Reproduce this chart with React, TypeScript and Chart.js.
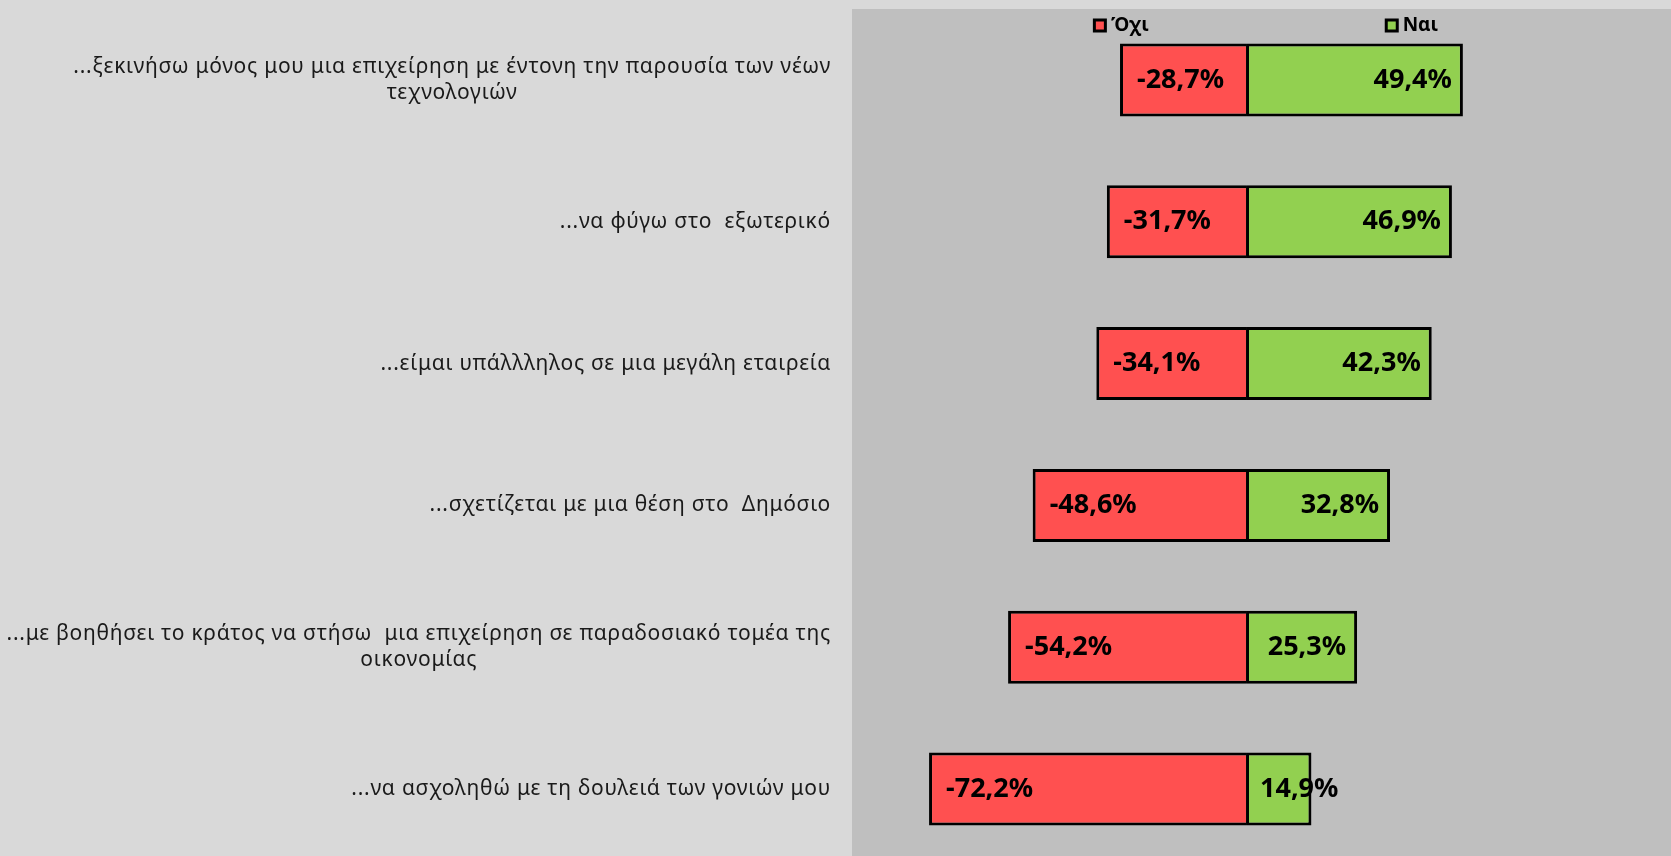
import React, { useEffect, useRef } from "react";
import { Chart, registerables } from "chart.js";

Chart.register(...registerables);

// ---- data ----
const categories: string[][] = [
  ["...ξεκινήσω μόνος μου μια επιχείρηση με έντονη την παρουσία των νέων", "τεχνολογιών"],
  ["...να φύγω στο  εξωτερικό"],
  ["...είμαι υπάλλληλος σε μια μεγάλη εταιρεία"],
  ["...σχετίζεται με μια θέση στο  Δημόσιο"],
  ["...με βοηθήσει το κράτος να στήσω  μια επιχείρηση σε παραδοσιακό τομέα της", "οικονομίας"],
  ["...να ασχοληθώ με τη δουλειά των γονιών μου"],
];
const seriesNames = ["Όχι", "Ναι"];
const noValues = [-28.7, -31.7, -34.1, -48.6, -54.2, -72.2];
const yesValues = [49.4, 46.9, 42.3, 32.8, 25.3, 14.9];
const axisMin = -89.75;
const axisMax = 96.8;

// ---- styles ----
const RED = "#FF5050";
const GREEN = "#92D050";
const OUTER_BG = "#D9D9D9";
const PLOT_BG = "#BFBFBF";
const W = 1671;
const H = 860;

const fmt = (v: number) => v.toFixed(1).replace(".", ",") + "%";

const bgPlugin = {
  id: "bgPlugin",
  beforeDraw(chart: any) {
    const { ctx, chartArea: a, width, height } = chart;
    ctx.save();
    ctx.fillStyle = OUTER_BG;
    ctx.fillRect(0, 0, width, height);
    ctx.fillStyle = PLOT_BG;
    ctx.fillRect(a.left, a.top, a.right - a.left, a.bottom - a.top);
    ctx.restore();
  },
};

const labelPlugin = {
  id: "labelPlugin",
  afterDraw(chart: any) {
    const { ctx, chartArea: a } = chart;
    const yScale = chart.scales.y;
    ctx.save();
    // category labels
    ctx.font = "21px 'Noto Sans'";
    (ctx as any).letterSpacing = "0.75px";
    ctx.fillStyle = "#1a1a1a";
    ctx.textBaseline = "middle";
    ctx.textAlign = "center";
    const lineH = 26.5;
    categories.forEach((lines, i) => {
      const yc = yScale.getPixelForValue(i);
      const maxW = Math.max(...lines.map((l) => ctx.measureText(l).width));
      const cx = 831 - maxW / 2;
      lines.forEach((l, j) => {
        ctx.fillText(l, cx, yc + (j - (lines.length - 1) / 2) * lineH);
      });
    });
    (ctx as any).letterSpacing = "0px";

    // data labels
    ctx.font = "bold 27px 'Noto Sans'";
    ctx.fillStyle = "#000";
    chart.data.datasets.forEach((ds: any, di: number) => {
      const meta = chart.getDatasetMeta(di);
      meta.data.forEach((el: any, i: number) => {
        const v = ds.data[i];
        const { x, base, y } = el.getProps(["x", "base", "y"], true);
        const txt = fmt(v);
        const tw = ctx.measureText(txt).width;
        const width = Math.abs(x - base);
        if (v < 0) {
          ctx.textAlign = "left";
          const pad = tw + 34 > width ? 4 : 17;
          ctx.fillText(txt, Math.min(x, base) + pad, y);
        } else {
          if (tw + 22 > width) {
            ctx.textAlign = "left";
            ctx.fillText(txt, base + 14, y);
          } else {
            ctx.textAlign = "right";
            ctx.fillText(txt, x - 11, y);
          }
        }
      });
    });

    // legend
    ctx.font = "bold 19px 'Noto Sans'";
    ctx.textAlign = "left";
    const box = 14;
    const gapText = 4;
    const gapItems = 236;
    const colors = [RED, GREEN];
    const widths = seriesNames.map((n) => box + gapText + ctx.measureText(n).width);
    const total = widths[0] + gapItems + widths[1];
    let lx = (a.left + a.right) / 2 + 4 - total / 2;
    const ly = 25.5;
    seriesNames.forEach((n, k) => {
      ctx.fillStyle = "#000";
      ctx.fillRect(lx, ly - box / 2, box, box);
      ctx.fillStyle = colors[k];
      ctx.fillRect(lx + 3, ly - box / 2 + 3, box - 6, box - 6);
      ctx.fillStyle = "#000";
      ctx.fillText(n, lx + box + gapText, ly);
      lx += widths[k] + gapItems;
    });
    ctx.restore();
  },
};

export default function App() {
  const ref = useRef<HTMLCanvasElement | null>(null);
  useEffect(() => {
    if (!ref.current) return;
    const chart = new Chart(ref.current, {
      type: "bar",
      data: {
        labels: categories.map((c) => c.join(" ")),
        datasets: [
          {
            label: seriesNames[0],
            data: noValues,
            backgroundColor: RED,
            borderColor: "#000",
            borderWidth: 3,
            barPercentage: 0.515,
            categoryPercentage: 1,
          },
          {
            label: seriesNames[1],
            data: yesValues,
            backgroundColor: GREEN,
            borderColor: "#000",
            borderWidth: 3,
            borderSkipped: false,
            barPercentage: 0.515,
            categoryPercentage: 1,
          },
        ],
      },
      options: {
        indexAxis: "y",
        animation: false,
        responsive: false,
        devicePixelRatio: 1,
        layout: { padding: { left: 852, top: 9, right: 0, bottom: 0 } },
        scales: {
          x: { display: false, stacked: true, min: axisMin, max: axisMax },
          y: { display: false, stacked: true },
        },
        plugins: {
          legend: { display: false },
          tooltip: { enabled: false },
        },
      } as any,
      plugins: [bgPlugin, labelPlugin],
    });
    return () => chart.destroy();
  }, []);
  return (
    <div
      style={{
        position: "fixed",
        left: 0,
        top: 0,
        width: W,
        height: 856,
        overflow: "hidden",
        background: OUTER_BG,
      }}
    >
      <canvas ref={ref} width={W} height={H} style={{ display: "block", width: W, height: H }} />
    </div>
  );
}
